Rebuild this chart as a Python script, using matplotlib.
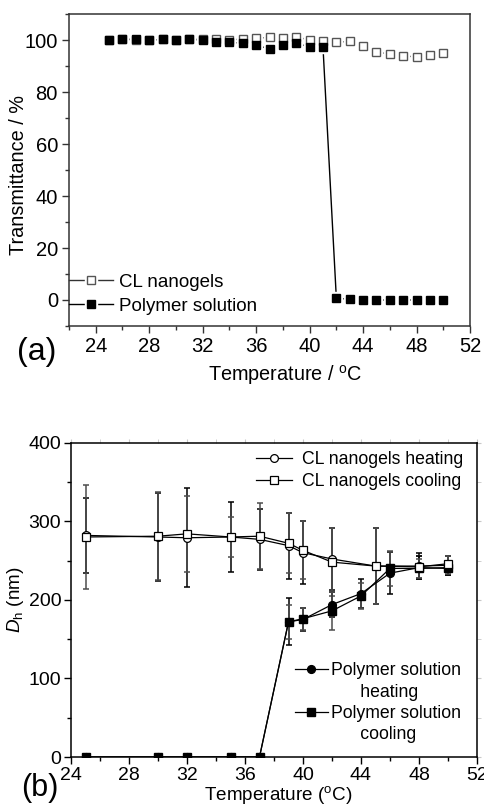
import matplotlib
matplotlib.use("Agg")
import numpy as np
import matplotlib.pyplot as plt
from matplotlib.lines import Line2D
from matplotlib.legend_handler import HandlerTuple
from matplotlib.ticker import MultipleLocator

plt.rcParams['font.family'] = ['Liberation Sans', 'DejaVu Sans']
plt.rcParams['mathtext.fontset'] = 'custom'
plt.rcParams['mathtext.rm'] = 'Liberation Sans'
plt.rcParams['mathtext.it'] = 'Liberation Sans:italic'

# ---- (a) transmittance vs temperature ----
temp_a = list(range(25, 51))
trans_cl = [100.0, 100.2, 100.1, 100.0, 100.2, 100.1, 100.3, 100.3,
            100.2, 100.0, 100.4, 100.7, 101.0, 100.9, 101.1, 100.1,
            99.5, 99.1, 99.5, 97.5, 95.5, 94.5, 93.9, 93.5, 94.2, 94.9]
trans_poly = [100.0, 100.4, 100.2, 100.0, 100.2, 100.0, 100.2, 100.0,
              99.2, 99.2, 98.7, 98.1, 96.5, 97.9, 98.7, 97.4, 97.4,
              0.8, 0.2, 0.0, 0.0, 0.0, 0.0, 0.0, 0.0, 0.0]
xticks_a = [24, 28, 32, 36, 40, 44, 48, 52]
yticks_a = [0, 20, 40, 60, 80, 100]

# ---- (b) hydrodynamic diameter vs temperature ----
temp_cl = [25, 30, 32, 35, 37, 39, 40, 42, 45, 48, 50]
cl_heat = [282, 280, 279, 280, 277, 269, 260, 252, 243, 243, 244]
cl_heat_err = [48, 56, 63, 45, 39, 42, 40, 40, 48, 16, 12]
cl_cool = [280, 281, 284, 280, 281, 272, 263, 248, 243, 242, 246]
cl_cool_err = [66, 56, 48, 25, 42, 38, 37, 43, 48, 14, 10]

temp_poly = [25, 30, 32, 35, 37, 39, 40, 42, 44, 46, 48, 50]
poly_heat = [0, 0, 0, 0, 0, 172, 175, 194, 208, 234, 241, 240]
poly_heat_err = [0, 0, 0, 0, 0, 30, 15, 16, 19, 27, 15, 8]
poly_cool = [0, 0, 0, 0, 0, 172, 176, 186, 205, 240, 240, 241]
poly_cool_err = [0, 0, 0, 0, 0, 22, 14, 24, 17, 22, 12, 8]
xticks_b = [24, 28, 32, 36, 40, 44, 48, 52]
yticks_b = [0, 100, 200, 300, 400]

fig = plt.figure(figsize=(4.84, 8.06), dpi=100)

# ================= panel (a) =================
axa = fig.add_axes([69/484, 1-326/806, 401/484, 312/806])
ms_a = 5.8
# connecting lines first, then white halos to leave a gap around each symbol
axa.plot(temp_a, trans_cl, '-', color='#555555', lw=1.0, zorder=2)
axa.plot(temp_a, trans_poly, '-', color='black', lw=1.0, zorder=2)
axa.plot(temp_a, trans_cl, 's', ms=ms_a + 3.5, mfc='white', mec='white', ls='none', zorder=3)
axa.plot(temp_a, trans_poly, 's', ms=ms_a + 3.5, mfc='white', mec='white', ls='none', zorder=3)
axa.plot(temp_a, trans_cl, 's', ms=ms_a, mfc='white', mec='#555555', mew=1.0, ls='none', zorder=4)
axa.plot(temp_a, trans_poly, 's', ms=ms_a, mfc='black', mec='black', mew=1.0, ls='none', zorder=5)

axa.set_xlim(22, 52)
axa.set_ylim(-10, 110)
axa.set_xticks(xticks_a)
axa.set_yticks(yticks_a)
axa.xaxis.set_minor_locator(MultipleLocator(2))
axa.yaxis.set_minor_locator(MultipleLocator(10))
axa.tick_params(axis='both', which='major', direction='out', length=5, width=1,
                labelsize=14.5, color='#333333', pad=3)
axa.tick_params(axis='both', which='minor', direction='out', length=3, width=1, color='#333333')
for sp in axa.spines.values():
    sp.set_linewidth(1.1)
    sp.set_color('#333333')

axa.set_xlabel(r'Temperature / $^{\mathrm{o}}$C', fontsize=14.3)
axa.xaxis.set_label_coords((285-69)/401, (326-375)/312)
axa.xaxis.label.set_va('center')
axa.set_ylabel('Transmittance / %', fontsize=14.3)
axa.yaxis.set_label_coords((18-69)/401, (326-175)/312)
axa.yaxis.label.set_va('center')

def gap_handle(ms, mfc, mec, lc):
    line = Line2D([], [], color=lc, lw=1.0)
    halo = Line2D([], [], marker='s', ms=ms + 3.5, mfc='white', mec='white', ls='none')
    mark = Line2D([], [], marker='s', ms=ms, mfc=mfc, mec=mec, mew=1.0, ls='none')
    return (line, halo, mark)

leg_a = axa.legend([gap_handle(ms_a, 'white', '#555555', '#333333'),
                    gap_handle(ms_a, 'black', 'black', 'black')],
                   ['CL nanogels', 'Polymer solution'],
                   handler_map={tuple: HandlerTuple(ndivide=1)},
                   loc='lower left', bbox_to_anchor=(0.0, 0.036), frameon=False,
                   fontsize=13.5, handlelength=2.35, handletextpad=0.3,
                   labelspacing=0.36, borderpad=0.0, borderaxespad=0.0)

fig.text(37/484, 1-352/806, '(a)', fontsize=23, ha='center', va='center')

# ================= panel (b) =================
axb = fig.add_axes([71/484, 1-757/806, 406/484, 314.3/806])
ms_b = 5.6

def err_part(x, y, e):
    idx = [i for i in range(len(x)) if e[i] > 0]
    return [x[i] for i in idx], [y[i] for i in idx], [e[i] for i in idx]

for x, y, e, col in [(temp_cl, cl_heat, cl_heat_err, 'black'),
                     (temp_cl, cl_cool, cl_cool_err, '#4d4d4d'),
                     (temp_poly, poly_heat, poly_heat_err, 'black'),
                     (temp_poly, poly_cool, poly_cool_err, '#4d4d4d')]:
    xs, ys, es = err_part(x, y, e)
    axb.errorbar(xs, ys, yerr=es, fmt='none', ecolor=col, elinewidth=1.1,
                 capsize=2.5, capthick=1.1, zorder=2)

h_ph, = axb.plot(temp_poly, poly_heat, '-o', color='black', lw=0.9, ms=ms_b,
                 mfc='black', mec='black', zorder=3)
h_pc, = axb.plot(temp_poly, poly_cool, '-s', color='black', lw=0.9, ms=ms_b,
                 mfc='black', mec='black', zorder=3)
h_ch, = axb.plot(temp_cl, cl_heat, '-o', color='black', lw=0.9, ms=ms_b,
                 mfc='white', mec='black', mew=0.9, zorder=4)
h_cc, = axb.plot(temp_cl, cl_cool, '-s', color='black', lw=0.9, ms=ms_b,
                 mfc='white', mec='black', mew=0.9, zorder=4)

axb.set_xlim(24, 52)
axb.set_ylim(0, 400)
axb.set_xticks(xticks_b)
axb.set_yticks(yticks_b)
axb.xaxis.set_minor_locator(MultipleLocator(2))
axb.yaxis.set_minor_locator(MultipleLocator(50))
axb.tick_params(axis='both', which='major', direction='out', length=5, width=1,
                labelsize=14, pad=2)
axb.tick_params(axis='both', which='minor', direction='out', length=3, width=1)
for sp in axb.spines.values():
    sp.set_linewidth(1.1)
    sp.set_color('black')

# faint ticks on the top and right edges
top = axb.secondary_xaxis('top')
top.set_xticks(xticks_b)
top.xaxis.set_minor_locator(MultipleLocator(2))
top.tick_params(which='both', direction='out', color='#c8c8c8', labeltop=False, length=3)
top.spines['top'].set_visible(False)
right = axb.secondary_yaxis('right')
right.set_yticks(yticks_b)
right.yaxis.set_minor_locator(MultipleLocator(50))
right.tick_params(which='both', direction='out', color='#c8c8c8', labelright=False, length=3)
right.spines['right'].set_visible(False)

axb.set_xlabel(r'Temperature ($^{\mathrm{o}}$C)', fontsize=13.6)
axb.xaxis.set_label_coords((278-71)/406, (757-795)/314.3)
axb.xaxis.label.set_va('center')
axb.set_ylabel(r'$D_{\mathrm{h}}$ (nm)', fontsize=13.6)
axb.yaxis.set_label_coords((15-71)/406, 0.5)
axb.yaxis.label.set_va('center')

leg_b1 = axb.legend([h_ch, h_cc], ['CL nanogels heating', 'CL nanogels cooling'],
                    loc='upper right', bbox_to_anchor=(1 - 14/406, 1 - 8/314.3),
                    frameon=False, fontsize=12.7, handlelength=2.05,
                    handletextpad=0.55, labelspacing=0.29, borderpad=0.0,
                    borderaxespad=0.0, numpoints=1)
axb.add_artist(leg_b1)

blank = Line2D([], [], ls='none')
leg_b2 = axb.legend([h_ph, blank, h_pc, blank],
                    ['Polymer solution', '      heating', 'Polymer solution', '      cooling'],
                    loc='lower left', bbox_to_anchor=((295-71)/406, 14/314.3),
                    frameon=False, fontsize=12.7, handlelength=1.85,
                    handletextpad=0.2, labelspacing=0.24, borderpad=0.0,
                    borderaxespad=0.0, numpoints=1)

fig.text(40/484, 1-788/806, '(b)', fontsize=22, ha='center', va='center')

fig.savefig('out.png', dpi=100)
